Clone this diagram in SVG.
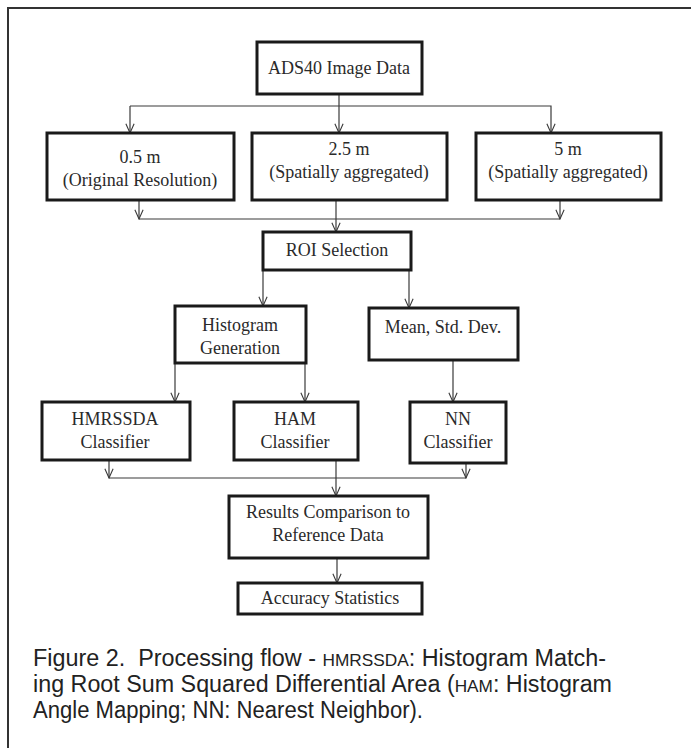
<svg xmlns="http://www.w3.org/2000/svg" width="691" height="748" viewBox="0 0 691 748">
<style>
.box{fill:#fff;stroke:#1a1a1a;stroke-width:3}
.t{font-family:"Liberation Serif","Times New Roman",serif;font-size:18px;fill:#2a2a2a;text-anchor:middle}
.c{fill:none;stroke:#3a3a3a;stroke-width:1.2}
.cap{font-family:"Liberation Sans",Arial,sans-serif;font-size:23px;fill:#222}
.sc{font-size:17px}
.frame{fill:none;stroke:#333;stroke-width:2}
</style>
<defs>
<marker id="ah" viewBox="0 0 12 12" refX="11" refY="6" markerWidth="11" markerHeight="11" markerUnits="userSpaceOnUse" orient="auto">
<path d="M1,1.5 L11,6 L1,10.5" fill="none" stroke="#3a3a3a" stroke-width="1.2"/>
</marker>
</defs>
<rect width="691" height="748" fill="#fff"/>
<path class="frame" d="M691,8 H8 V748"/>
<g id="connectors">
<path class="c" d="M339,94 V133" marker-end="url(#ah)"/>
<path class="c" d="M130,106 H551 V133" marker-end="url(#ah)"/>
<path class="c" d="M130,106 V133" marker-end="url(#ah)"/>
<path class="c" d="M139,200 V219" marker-end="url(#ah)"/>
<path class="c" d="M560,200 V219" marker-end="url(#ah)"/>
<path class="c" d="M139,219 H560"/>
<path class="c" d="M336,200 V232" marker-end="url(#ah)"/>
<path class="c" d="M263,270 V306" marker-end="url(#ah)"/>
<path class="c" d="M409,270 V308" marker-end="url(#ah)"/>
<path class="c" d="M175,363 V402" marker-end="url(#ah)"/>
<path class="c" d="M305,363 V402" marker-end="url(#ah)"/>
<path class="c" d="M453,360 V402" marker-end="url(#ah)"/>
<path class="c" d="M109,460 V478" marker-end="url(#ah)"/>
<path class="c" d="M466,463 V478" marker-end="url(#ah)"/>
<path class="c" d="M109,478 H466"/>
<path class="c" d="M336,460 V496" marker-end="url(#ah)"/>
<path class="c" d="M337,558 V583" marker-end="url(#ah)"/>
</g>
<g id="ads40"><rect class="box" x="257" y="42" width="165" height="52"/><text class="t" x="339" y="74">ADS40 Image Data</text></g>
<g id="r05"><rect class="box" x="47" y="133" width="187" height="67"/><text class="t" x="140" y="163">0.5 m</text><text class="t" x="140" y="186">(Original Resolution)</text></g>
<g id="r25"><rect class="box" x="252" y="133" width="195" height="67"/><text class="t" x="349" y="155">2.5 m</text><text class="t" x="349" y="178">(Spatially aggregated)</text></g>
<g id="r5"><rect class="box" x="476" y="133" width="185" height="67"/><text class="t" x="568" y="155">5 m</text><text class="t" x="568" y="178">(Spatially aggregated)</text></g>
<g id="roi"><rect class="box" x="263" y="232" width="148" height="38"/><text class="t" x="337" y="256">ROI Selection</text></g>
<g id="hist"><rect class="box" x="175" y="306" width="131" height="57"/><text class="t" x="240" y="331">Histogram</text><text class="t" x="240" y="354">Generation</text></g>
<g id="mean"><rect class="box" x="369" y="308" width="149" height="52"/><text class="t" x="443" y="333">Mean, Std. Dev.</text></g>
<g id="hmrssda"><rect class="box" x="42" y="402" width="148" height="58"/><text class="t" x="115" y="425">HMRSSDA</text><text class="t" x="115" y="448">Classifier</text></g>
<g id="ham"><rect class="box" x="234" y="402" width="124" height="58"/><text class="t" x="295" y="425">HAM</text><text class="t" x="295" y="448">Classifier</text></g>
<g id="nn"><rect class="box" x="410" y="402" width="96" height="61"/><text class="t" x="458" y="425">NN</text><text class="t" x="458" y="448">Classifier</text></g>
<g id="results"><rect class="box" x="229" y="496" width="199" height="62"/><text class="t" x="328" y="518">Results Comparison to</text><text class="t" x="328" y="541">Reference Data</text></g>
<g id="accuracy"><rect class="box" x="238" y="583" width="184" height="31"/><text class="t" x="330" y="604">Accuracy Statistics</text></g>
<g id="caption">
<text class="cap" x="33" y="666" textLength="573" lengthAdjust="spacingAndGlyphs">Figure 2.&#160; Processing flow - <tspan class="sc">HMRSSDA</tspan>: Histogram Match-</text>
<text class="cap" x="33" y="692" textLength="579" lengthAdjust="spacingAndGlyphs">ing Root Sum Squared Differential Area (<tspan class="sc">HAM</tspan>: Histogram</text>
<text class="cap" x="33" y="718" textLength="390" lengthAdjust="spacingAndGlyphs">Angle Mapping; NN: Nearest Neighbor).</text>
</g>
</svg>
